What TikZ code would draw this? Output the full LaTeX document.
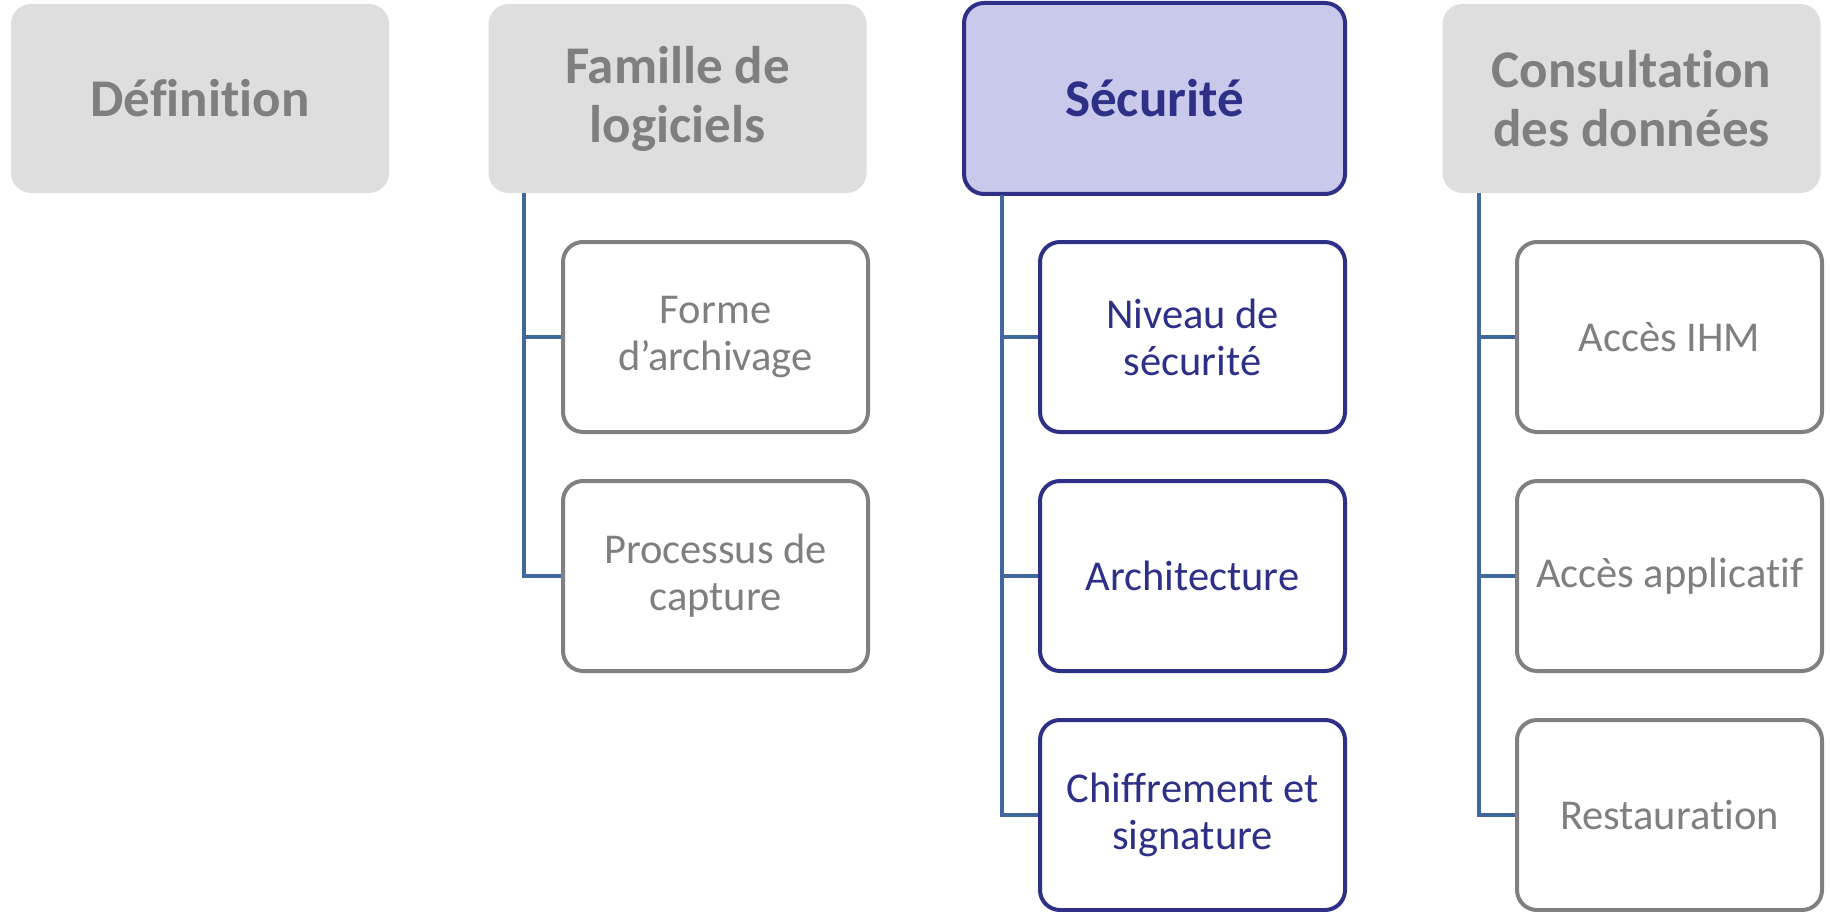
\documentclass[tikz,border=0pt]{standalone}
\usepackage{fontspec}
\setmainfont{Carlito}[Ligatures={NoCommon}]
\definecolor{headfill}{HTML}{DEDEDE}
\definecolor{greytext}{HTML}{7F7F7F}
\definecolor{greyline}{HTML}{808080}
\definecolor{navy}{HTML}{2E3087}
\definecolor{lilac}{HTML}{C8C9EB}
\definecolor{trunk}{HTML}{41689A}
\begin{document}
\begin{tikzpicture}[x=1pt,y=-1pt,
  head/.style={rectangle, rounded corners=20pt, minimum width=378pt, minimum height=189pt,
    inner sep=0pt, align=center, font=\fontsize{53}{59}\selectfont\bfseries},
  headgrey/.style={head, fill=headfill, text=greytext},
  headsel/.style={head, fill=lilac, draw=navy, line width=4pt, text=navy,
    minimum width=381pt, minimum height=191pt},
  item/.style={rectangle, rounded corners=20pt, minimum width=305pt, minimum height=190pt,
    inner sep=0pt, align=center, fill=white, line width=4pt,
    font=\fontsize{42.5}{47}\selectfont},
  itemgrey/.style={item, draw=greyline, text=greytext},
  itemsel/.style={item, draw=navy, text=navy},
  conn/.style={draw=trunk, line width=4.5pt}]
\useasboundingbox (0,0) rectangle (1830,912);

% column headers
\node[headgrey] (def) at (200,98.5) {Définition};
\node[headgrey] (fam) at (677.5,98.5) {Famille de\\logiciels};
\node[headsel]  (sec) at (1154.5,98.5) {Sécurité};
\node[headgrey] (con) at (1631.5,98.5) {Consultation\\des données};

% trunk starting points under the headers
\coordinate (famtop) at (524,193);
\coordinate (sectop) at (1002,195);
\coordinate (contop) at (1479,193);

% software family
\node[itemgrey] (forme) at (715.5,337) {Forme\\d’archivage};
\node[itemgrey] (proc)  at (715.5,576) {Processus de\\capture};

% security
\node[itemsel] (niv)  at (1192.5,337) {Niveau de\\sécurité};
\node[itemsel] (arch) at (1192.5,576) {Architecture};
\node[itemsel] (chif) at (1192.5,815) {Chiffrement et\\signature};

% data access
\node[itemgrey] (ihm)  at (1669.5,337) {Accès IHM};
\node[itemgrey] (app)  at (1669.5,576) {Accès applicatif};
\node[itemgrey] (rest) at (1669.5,815) {Restauration};

% connectors
\draw[conn] (famtop) |- (proc.west);
\draw[conn] (famtop) |- (forme.west);
\draw[conn] (sectop) |- (chif.west);
\draw[conn] (sectop) |- (niv.west);
\draw[conn] (sectop) |- (arch.west);
\draw[conn] (contop) |- (rest.west);
\draw[conn] (contop) |- (ihm.west);
\draw[conn] (contop) |- (app.west);
\end{tikzpicture}
\end{document}
